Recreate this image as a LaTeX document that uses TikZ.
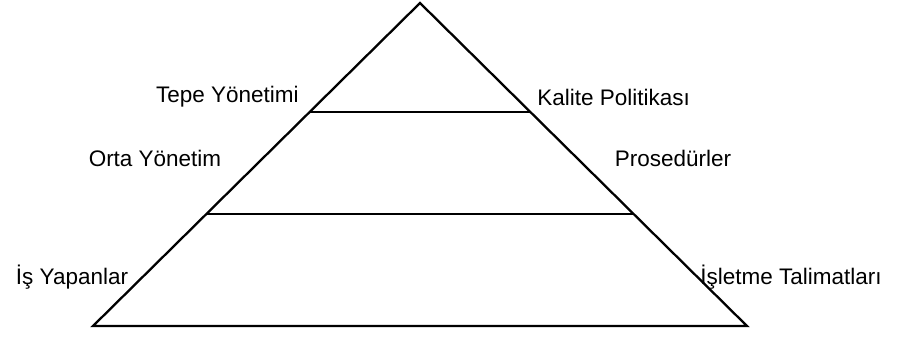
\documentclass[tikz,border=0pt]{standalone}
\usepackage{fontspec}
\setmainfont{Liberation Sans}
\usetikzlibrary{calc}
\tikzset{
  lab/.style={inner sep=0pt,font=\fontsize{12.8}{15}\selectfont},
  edge/.style={line width=1.3pt,line join=miter}
}
\begin{document}
\begin{tikzpicture}[x=0.02cm,y=-0.02cm]
  \useasboundingbox (0,0) rectangle (902,338);
  \coordinate (top) at (420,3);
  \coordinate (bl) at (93,326);
  \coordinate (br) at (747,326);
  \draw[edge] (bl) -- (top) -- (br) -- cycle;
  % level lines
  \coordinate (l1) at ($(top)!0.3375!(bl)$);
  \coordinate (r1) at ($(top)!0.3375!(br)$);
  \coordinate (l2) at ($(top)!0.653!(bl)$);
  \coordinate (r2) at ($(top)!0.653!(br)$);
  \draw[edge] (l1) -- (r1);
  \draw[edge] (l2) -- (r2);
  % left side
  \node[lab,anchor=east] (tepe) at (299,97) {Tepe Yönetimi};
  \node[lab] (orta) at (155,158) {Orta Yönetim};
  \node[lab] (isy) at (72,277) {İş Yapanlar};
  % right side
  \node[lab,anchor=west] (kal) at (537,97) {Kalite Politikası};
  \node[lab] (pros) at (673,158) {Prosedürler};
  \node[lab,anchor=west] (ist) at (700,277) {İşletme Talimatları};
\end{tikzpicture}
\end{document}
